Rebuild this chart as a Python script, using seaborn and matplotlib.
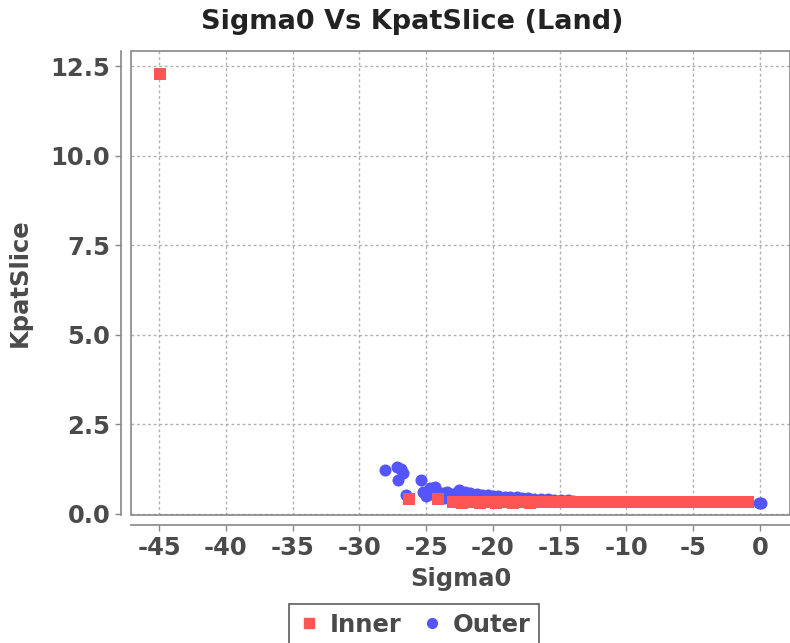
import pandas as pd
import seaborn as sns
import matplotlib.pyplot as plt
from matplotlib.patches import Rectangle
from matplotlib.lines import Line2D

sns.set_theme(style="white")
plt.rcParams['font.family'] = ['DejaVu Sans']

# Outer (blue circles)
outer_x = [-28.1, -27.2, -26.9, -26.7, -27.1, -25.4, -26.5, -24.7, -24.3, -25.2,
           -25.0, -24.6, -23.8, -23.4, -23.0, -22.5, -22.1, -21.7, -21.2, -20.8,
           -20.4, -20.0, -19.6, -19.1, -18.7, -18.2, -17.8, -17.4, -16.9, -16.4,
           -15.9, -15.4, -14.9, -14.4, -14.0, -23.6, -22.8, -21.5, -20.2, -19.0,
           -17.0, -0.1, 0.1]
outer_y = [1.23, 1.32, 1.25, 1.14, 0.95, 0.95, 0.53, 0.72, 0.75, 0.61,
           0.50, 0.55, 0.58, 0.61, 0.55, 0.67, 0.60, 0.59, 0.55, 0.52,
           0.53, 0.50, 0.49, 0.48, 0.47, 0.46, 0.44, 0.45, 0.43, 0.42,
           0.41, 0.40, 0.39, 0.38, 0.37, 0.45, 0.48, 0.42, 0.43, 0.40,
           0.38, 0.30, 0.31]

# Inner (red squares)
inner_x = [-44.9, -26.3, -24.1,
           -23.0, -22.5, -22.0, -21.5, -21.0, -20.5, -20.0, -19.5, -19.0, -18.5,
           -18.0, -17.5, -17.0, -16.5, -16.0, -15.5, -15.0, -14.5, -14.0, -13.5,
           -13.0, -12.5, -12.0, -11.5, -11.0, -10.5, -10.0, -9.5, -9.0, -8.5,
           -8.0, -7.5, -7.0, -6.5, -6.0, -5.5, -5.0, -4.5, -4.0, -3.5,
           -3.0, -2.5, -2.0, -1.5, -1.2, -0.9,
           -22.3, -21.0, -19.8, -18.5, -17.2]
inner_y = [12.28, 0.42, 0.42,
           0.34, 0.33, 0.32, 0.32, 0.32, 0.32, 0.32, 0.32, 0.32, 0.32,
           0.32, 0.32, 0.32, 0.32, 0.32, 0.32, 0.32, 0.32, 0.32, 0.32,
           0.32, 0.32, 0.32, 0.32, 0.32, 0.32, 0.32, 0.32, 0.32, 0.32,
           0.32, 0.32, 0.32, 0.32, 0.32, 0.32, 0.32, 0.32, 0.32, 0.32,
           0.32, 0.32, 0.32, 0.32, 0.32, 0.32,
           0.31, 0.31, 0.31, 0.31, 0.31]

x_ticks = [-45, -40, -35, -30, -25, -20, -15, -10, -5, 0]
y_ticks = [0.0, 2.5, 5.0, 7.5, 10.0, 12.5]

red = '#FF5555'
blue = '#5555FF'
gray = '#888888'
txt = '#4a4a4a'

outer = pd.DataFrame({'Sigma0': outer_x, 'KpatSlice': outer_y})
inner = pd.DataFrame({'Sigma0': inner_x, 'KpatSlice': inner_y})

fig = plt.figure(figsize=(7.9, 6.43), dpi=100)
ax = fig.add_axes([131 / 790, 1 - 515 / 643, 659 / 790, 464 / 643])

sns.scatterplot(data=outer, x='Sigma0', y='KpatSlice', ax=ax, color=blue,
                marker='o', s=75, linewidth=0, zorder=3)
sns.scatterplot(data=inner, x='Sigma0', y='KpatSlice', ax=ax, color=red,
                marker='s', s=85, linewidth=0, zorder=4)

ax.set_xlim(-47.1, 2.25)
ax.set_ylim(-0.03, 12.92)
ax.set_xticks(x_ticks)
ax.set_yticks(y_ticks)
ax.set_xticklabels([str(v) for v in x_ticks])
ax.set_yticklabels([f'{v:.1f}' for v in y_ticks])
ax.grid(True, color='#b0b0b0', linestyle=(0, (2, 2)), linewidth=1)
ax.set_axisbelow(True)

# axis lines offset from the plot box
for side in ['left', 'bottom']:
    ax.spines[side].set_position(('outward', 7))
    ax.spines[side].set_color(gray)
    ax.spines[side].set_linewidth(1.2)
for side in ['top', 'right']:
    ax.spines[side].set_visible(False)
ax.add_patch(Rectangle((0, 0), 1, 1, transform=ax.transAxes, fill=False,
                       edgecolor=gray, linewidth=1.2, clip_on=False, zorder=5))

ax.tick_params(axis='both', labelsize=17.5, labelcolor=txt, color=gray,
               length=4, width=1, direction='out', left=True, bottom=True, pad=4)
for lab in ax.get_xticklabels() + ax.get_yticklabels():
    lab.set_fontweight('bold')

ax.set_xlabel('Sigma0', fontsize=17.5, color=txt, fontweight='bold', va='center')
ax.set_ylabel('KpatSlice', fontsize=17.5, color=txt, fontweight='bold', va='center')
ax.xaxis.set_label_coords(0.5, (515 - 579) / 464)
ax.yaxis.set_label_coords((20 - 131) / 659, 0.5)

fig.text(412 / 790, 1 - 22 / 643, 'Sigma0 Vs KpatSlice (Land)', ha='center',
         va='center', fontsize=19.5, fontweight='bold', color='#222222')

handles = [Line2D([], [], marker='s', color=red, linestyle='', markersize=7),
           Line2D([], [], marker='o', color=blue, linestyle='', markersize=7)]
leg = fig.legend(handles, ['Inner', 'Outer'], loc='upper center',
                 bbox_to_anchor=(414 / 790, 1 - 604 / 643), ncol=2,
                 frameon=True, fancybox=False,
                 prop={'size': 17.5, 'weight': 'bold'},
                 handletextpad=0.35, columnspacing=0.75, borderpad=0.35,
                 handlelength=1.0, borderaxespad=0)
leg.get_frame().set_edgecolor('#333333')
leg.get_frame().set_linewidth(1.2)
for t in leg.get_texts():
    t.set_color(txt)

fig.savefig('out.png', dpi=100)
